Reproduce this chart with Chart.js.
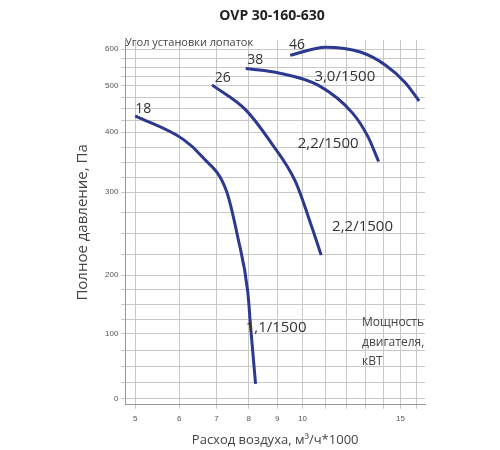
<!DOCTYPE html>
<html>
<head>
<meta charset="utf-8">
<script src="https://cdn.jsdelivr.net/npm/chart.js@4"></script>
<style>
  body { margin: 0; background: #fff; }
  #wrap { width: 500px; height: 450px; }
</style>
</head>
<body>
<div id="wrap"><canvas id="fanChart"></canvas></div>
<script>
// Air flow, m3/h * 1000 and total pressure, Pa
const flow18 = [5.0, 6.1, 6.6, 7.3, 7.65, 7.97, 8.06, 8.23];
const pres18 = [435, 388, 359, 301, 245, 171, 114, 23];
const flow26 = [6.87, 7.9, 8.8, 9.7, 10.4, 10.8];
const pres26 = [502, 448, 381, 318, 257, 224];
const flow38 = [7.9, 9.1, 10.7, 12.3, 13.1, 13.7];
const pres38 = [547, 534, 500, 441, 393, 351];
const flow46 = [9.5, 11.0, 12.7, 14.1, 15.3, 16.2];
const pres46 = [583, 605, 592, 556, 508, 467];

const xGrid = [5, 6, 7, 8, 9, 10, 11, 12, 13, 14, 15, 16];
const xLabels = [5, 6, 7, 8, 9, 10, 15];
const yTickVals = [0, 100, 200, 300, 400, 500, 600];
const yTickPos = [0, 64, 122, 204, 263, 309, 345]; // the picture's uneven pressure axis

// pressure -> position on the uneven axis
function pos(v) {
    for (let i = 1; i < yTickVals.length; i++) {
        if (v <= yTickVals[i] || i === yTickVals.length - 1) {
            const a = yTickVals[i - 1], b = yTickVals[i];
            return yTickPos[i - 1] + (v - a) / (b - a) * (yTickPos[i] - yTickPos[i - 1]);
        }
    }
}
const pts = (xs, ys) => xs.map((x, i) => ({ x: x, y: pos(ys[i]) }));

const curve = (xs, ys) => ({
    data: pts(xs, ys), borderColor: "#2b3990", borderWidth: 3,
    pointRadius: 0, fill: false, cubicInterpolationMode: "monotone"
});

// text labels placed in data coordinates
const notes = [
    { t: "18", x: 5.0, y: 450, s: 14 },
    { t: "26", x: 6.95, y: 522, s: 14 },
    { t: "38", x: 7.95, y: 570, s: 14 },
    { t: "46", x: 9.45, y: 612, s: 14 },
    { t: "3,0/1500", x: 10.5, y: 525, s: 15 },
    { t: "2,2/1500", x: 9.8, y: 380, s: 15 },
    { t: "2,2/1500", x: 11.3, y: 258, s: 15 },
    { t: "1,1/1500", x: 7.9, y: 110, s: 15 }
];

const notesPlugin = {
    id: "notes",
    afterDatasetsDraw(chart) {
        const { ctx, scales } = chart;
        ctx.save();
        ctx.fillStyle = "#333";
        ctx.textBaseline = "middle";
        notes.forEach(n => {
            ctx.font = n.s + "px 'Open Sans'";
            ctx.fillText(n.t, scales.x.getPixelForValue(n.x), scales.y.getPixelForValue(pos(n.y)));
        });
        ctx.font = "11px 'Open Sans'";
        ctx.fillStyle = "#444";
        ctx.fillText("Угол установки лопаток", 125, 43);
        ctx.font = "12px 'Open Sans'";
        ctx.fillText("Мощность", 362, 323);
        ctx.fillText("двигателя,", 362, 343);
        ctx.fillText("кВТ", 362, 362);
        ctx.font = "bold 14px 'Open Sans'";
        ctx.textAlign = "center";
        ctx.fillStyle = "#222";
        ctx.fillText("OVP 30-160-630", 272, 16);
        ctx.restore();
    }
};

new Chart(document.getElementById("fanChart"), {
    type: "line",
    data: { datasets: [curve(flow18, pres18), curve(flow26, pres26), curve(flow38, pres38), curve(flow46, pres46)] },
    plugins: [notesPlugin],
    options: {
        responsive: true, maintainAspectRatio: false, animation: false,
        layout: { padding: { top: 40, right: 75, left: 70, bottom: 0 } },
        plugins: { legend: { display: false }, tooltip: { enabled: false } },
        scales: {
            x: {
                type: "logarithmic", min: 4.8, max: 16.6,
                afterBuildTicks: s => { s.ticks = xGrid.map(v => ({ value: v })); },
                ticks: {
                    autoSkip: false, maxRotation: 0, color: "#555", font: { size: 8 }, padding: 5,
                    callback: v => xLabels.includes(v) ? String(v) : ""
                },
                grid: { color: "#c8c8c8", tickLength: 4 },
                border: { color: "#999" },
                title: { display: true, text: "Расход воздуха, м³/ч*1000", color: "#444", font: { size: 13, family: "Open Sans" }, padding: { top: 4, bottom: 2 } }
            },
            y: {
                type: "linear", min: -6, max: 354,
                afterBuildTicks: s => {
                    const t = [];
                    for (let v = 0; v <= 600; v += 25) t.push({ value: pos(v) });
                    s.ticks = t;
                },
                ticks: {
                    autoSkip: false, color: "#555", font: { size: 8 },
                    callback: function (v, i) {
                        const raw = i * 25;
                        return raw % 100 === 0 ? String(raw) : "";
                    }
                },
                grid: { color: "#c8c8c8", tickLength: 4 },
                border: { color: "#999" },
                title: { display: true, text: "Полное давление, Па", color: "#444", font: { size: 15, family: "Open Sans" }, padding: { bottom: 10 } }
            }
        }
    }
});
</script>
</body>
</html>
